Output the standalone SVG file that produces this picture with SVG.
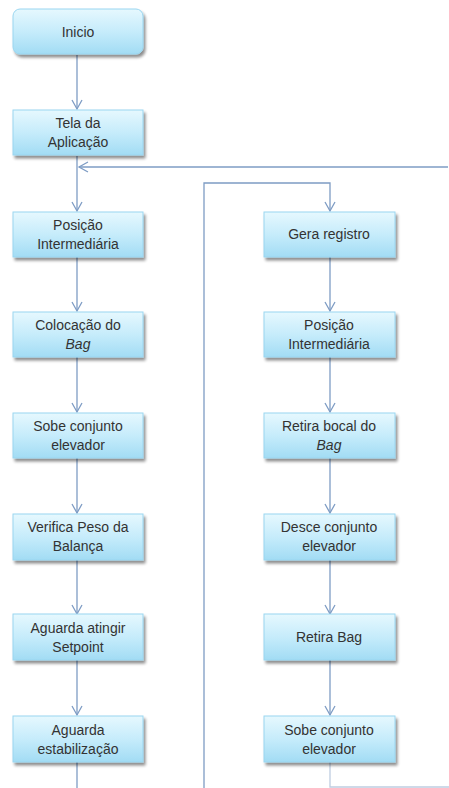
<svg xmlns="http://www.w3.org/2000/svg" width="449" height="788" viewBox="0 0 449 788">
<defs>
<linearGradient id="g" x1="0" y1="0" x2="0" y2="1">
<stop offset="0" stop-color="#e6f8fe"/>
<stop offset="0.5" stop-color="#c6ecfb"/>
<stop offset="1" stop-color="#a2dcf4"/>
</linearGradient>
<filter id="sh" x="-10%" y="-10%" width="130%" height="140%">
<feGaussianBlur in="SourceAlpha" stdDeviation="1.5"/>
<feOffset dx="2" dy="3" result="b"/>
<feComponentTransfer><feFuncA type="linear" slope="0.45"/></feComponentTransfer>
<feMerge><feMergeNode/><feMergeNode in="SourceGraphic"/></feMerge>
</filter>
<marker id="arr" markerWidth="12" markerHeight="12" refX="10" refY="6" orient="auto" markerUnits="userSpaceOnUse">
<polyline points="1,1 10,6 1,11" fill="none" stroke="#7e9cc4" stroke-width="1.3"/>
</marker>
</defs>
<style>
.box{fill:url(#g);stroke:#9ad6f0;stroke-width:1;filter:url(#sh)}
.t{font-family:"Liberation Sans","Open Sans",sans-serif;font-size:14px;fill:#333;text-anchor:middle}
.c{fill:none;stroke:#7e9cc4;stroke-width:1.3}
</style>
<rect width="449" height="788" fill="#fff"/>
<g id="connectors">
<line class="c" x1="77" y1="55" x2="77" y2="109" marker-end="url(#arr)"/>
<line class="c" x1="77" y1="156" x2="77" y2="211" marker-end="url(#arr)"/>
<line class="c" x1="448" y1="167" x2="79" y2="167" marker-end="url(#arr)"/>
<line class="c" x1="77" y1="257" x2="77" y2="311" marker-end="url(#arr)"/>
<line class="c" x1="77" y1="357" x2="77" y2="412" marker-end="url(#arr)"/>
<line class="c" x1="77" y1="458" x2="77" y2="513" marker-end="url(#arr)"/>
<line class="c" x1="77" y1="560" x2="77" y2="614" marker-end="url(#arr)"/>
<line class="c" x1="77" y1="660" x2="77" y2="715" marker-end="url(#arr)"/>
<line class="c" x1="77" y1="762" x2="77" y2="788"/>
<polyline class="c" points="204,788 204,183 330,183 330,211" marker-end="url(#arr)"/>
<line class="c" x1="330" y1="257" x2="330" y2="311" marker-end="url(#arr)"/>
<line class="c" x1="330" y1="357" x2="330" y2="412" marker-end="url(#arr)"/>
<line class="c" x1="330" y1="458" x2="330" y2="513" marker-end="url(#arr)"/>
<line class="c" x1="330" y1="560" x2="330" y2="614" marker-end="url(#arr)"/>
<line class="c" x1="330" y1="660" x2="330" y2="715" marker-end="url(#arr)"/>
<polyline class="c" points="330,762 330,787 449,787" stroke-opacity="0.5"/>
</g>
<g id="inicio"><rect class="box" x="13" y="9" width="130" height="45" rx="7"/><text class="t" x="78" y="37">Inicio</text></g>
<g id="tela"><rect class="box" x="13" y="110" width="130" height="45"/><text class="t" x="78" y="128">Tela da</text><text class="t" x="78" y="147">Aplicação</text></g>
<g id="posicao1"><rect class="box" x="13" y="212" width="130" height="45"/><text class="t" x="78" y="230">Posição</text><text class="t" x="78" y="249">Intermediária</text></g>
<g id="colocacao"><rect class="box" x="13" y="312" width="130" height="45"/><text class="t" x="78" y="330">Colocação do</text><text class="t" x="78" y="349" font-style="italic">Bag</text></g>
<g id="sobe1"><rect class="box" x="13" y="413" width="130" height="45"/><text class="t" x="78" y="431">Sobe conjunto</text><text class="t" x="78" y="450">elevador</text></g>
<g id="verifica"><rect class="box" x="13" y="514" width="130" height="46"/><text class="t" x="78" y="532">Verifica Peso da</text><text class="t" x="78" y="551">Balança</text></g>
<g id="aguarda1"><rect class="box" x="13" y="614" width="130" height="46"/><text class="t" x="78" y="633">Aguarda atingir</text><text class="t" x="78" y="652">Setpoint</text></g>
<g id="aguarda2"><rect class="box" x="13" y="716" width="130" height="46"/><text class="t" x="78" y="735">Aguarda</text><text class="t" x="78" y="754">estabilização</text></g>
<g id="gera"><rect class="box" x="264" y="212" width="131" height="45"/><text class="t" x="329" y="239">Gera registro</text></g>
<g id="posicao2"><rect class="box" x="264" y="312" width="131" height="45"/><text class="t" x="329" y="330">Posição</text><text class="t" x="329" y="349">Intermediária</text></g>
<g id="retirabocal"><rect class="box" x="264" y="413" width="131" height="45"/><text class="t" x="329" y="431">Retira bocal do</text><text class="t" x="329" y="450" font-style="italic">Bag</text></g>
<g id="desce"><rect class="box" x="264" y="514" width="131" height="46"/><text class="t" x="329" y="532">Desce conjunto</text><text class="t" x="329" y="551">elevador</text></g>
<g id="retirabag"><rect class="box" x="264" y="614" width="131" height="46"/><text class="t" x="329" y="642">Retira Bag</text></g>
<g id="sobe2"><rect class="box" x="264" y="716" width="131" height="46"/><text class="t" x="329" y="735">Sobe conjunto</text><text class="t" x="329" y="754">elevador</text></g>
</svg>
